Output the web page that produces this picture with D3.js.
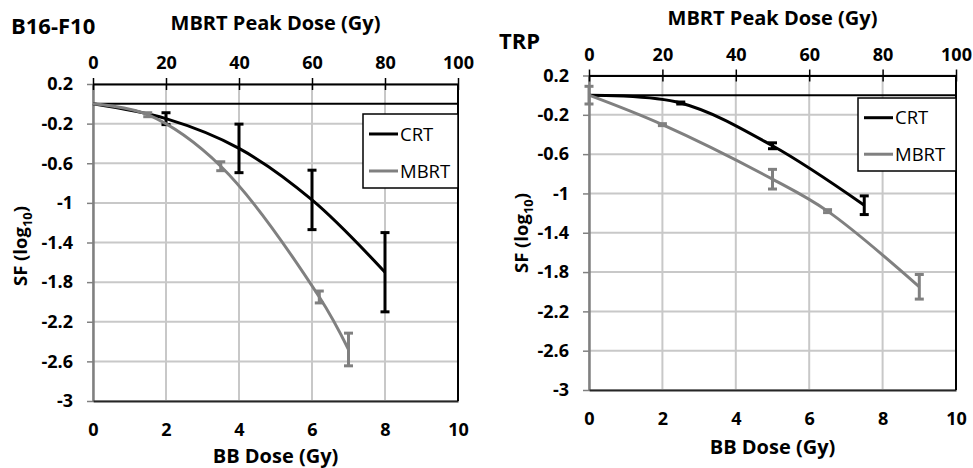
<!DOCTYPE html>
<html>
<head>
<meta charset="utf-8">
<script src="https://cdn.jsdelivr.net/npm/d3@7/dist/d3.min.js"></script>
<style>
  body { margin: 0; background: #fff; }
  svg { display: block; font-family: "Open Sans", "Noto Sans", sans-serif; }
</style>
</head>
<body>
<svg id="main-svg" width="973" height="468"></svg>
<script>
// shared ticks
var bbTicks = [0, 2, 4, 6, 8, 10]
var peakTicks = [0, 20, 40, 60, 80, 100]
var sfTicks = [0.2, -0.2, -0.6, -1, -1.4, -1.8, -2.2, -2.6, -3]
var seriesNames = ['CRT', 'MBRT']

// B16-F10 panel
var b16CrtDose = [0, 2, 4, 6, 8]
var b16CrtSF = [0, -0.15, -0.45, -0.97, -1.70]
var b16CrtErr = [0, 0.06, 0.245, 0.30, 0.40]
var b16MbrtDose = [0, 1.5, 3.5, 6.2, 7]
var b16MbrtSF = [0, -0.11, -0.63, -1.95, -2.48]
var b16MbrtErr = [0, 0.02, 0.045, 0.06, 0.165]

// TRP panel
var trpCrtDose = [0, 2.5, 5, 7.5]
var trpCrtSF = [0, -0.08, -0.515, -1.12]
var trpCrtErr = [0, 0.01, 0.03, 0.095]
var trpMbrtDose = [0, 2, 5, 6.5, 9]
var trpMbrtSF = [0, -0.30, -0.855, -1.18, -1.95]
var trpMbrtErr = [0.09, 0.01, 0.1, 0.015, 0.125]

var svg = d3.select('#main-svg')
var colors = { CRT: '#000000', MBRT: '#808080' }
var fontFam = '"Open Sans", "Noto Sans", sans-serif'
var tickFont = 18

function zip(xs, ys, es) {
    return xs.map(function(d, i) { return { x: d, y: ys[i], e: es[i] } })
}

function styleTicks(axisG) {
    axisG.attr('font-family', fontFam)
    axisG.selectAll('text').attr('font-size', tickFont).attr('font-weight', 'bold').attr('fill', '#000')
}

/**
 * Draws one survival panel.
 */
function drawPanel(p) {
    var x = d3.scaleLinear().domain([0, 10]).range([p.left, p.right])
    var xTop = d3.scaleLinear().domain([0, 100]).range([p.left, p.right])
    var y = d3.scaleLinear().domain([0.2, -3]).range([p.top, p.bottom])
    var g = svg.append('g')

    // gridlines
    g.selectAll('.hgrid').data(sfTicks).enter().append('line')
        .attr('x1', x(0)).attr('x2', x(10))
        .attr('y1', function(d) { return y(d) }).attr('y2', function(d) { return y(d) })
        .attr('stroke', '#c8c8c8').attr('stroke-width', 2)
    g.selectAll('.vgrid').data(bbTicks).enter().append('line')
        .attr('x1', function(d) { return x(d) }).attr('x2', function(d) { return x(d) })
        .attr('y1', y(0.2)).attr('y2', y(-3))
        .attr('stroke', '#c8c8c8').attr('stroke-width', 2)

    // left axis
    var yAxis = g.append('g').attr('transform', 'translate(' + x(0) + ',0)')
        .call(d3.axisLeft(y).tickValues(sfTicks).tickSize(6).tickSizeOuter(0).tickPadding(14)
            .tickFormat(function(d) { return d3.format('')(+d.toFixed(1)).replace('−', '-') }))
    yAxis.select('.domain').attr('stroke', '#808080').attr('stroke-width', 2.5)
    yAxis.selectAll('.tick line').attr('stroke', '#808080').attr('stroke-width', 1.5)
    styleTicks(yAxis)

    // bottom labels (axis crosses at 0, labels at low)
    var xAxis = g.append('g').attr('transform', 'translate(0,' + y(-3) + ')')
        .call(d3.axisBottom(x).tickValues(bbTicks).tickSize(0).tickPadding(22))
    xAxis.select('.domain').attr('stroke', '#262626').attr('stroke-width', 2)
    styleTicks(xAxis)

    // line at SF = 0 and right border
    g.append('line').attr('x1', x(0)).attr('x2', x(10)).attr('y1', y(0)).attr('y2', y(0))
        .attr('stroke', '#000').attr('stroke-width', 2)
    g.append('line').attr('x1', x(10)).attr('x2', x(10)).attr('y1', y(0.2)).attr('y2', y(-3))
        .attr('stroke', '#000').attr('stroke-width', 2)

    // top axis (MBRT peak dose)
    var topAxis = g.append('g').attr('transform', 'translate(0,' + y(0.2) + ')')
        .call(d3.axisTop(xTop).tickValues(peakTicks).tickSizeOuter(0).tickSizeInner(6).tickPadding(9))
    topAxis.select('.domain').attr('stroke', '#000').attr('stroke-width', 2)
    topAxis.selectAll('.tick line').attr('y1', 6).attr('y2', -6).attr('stroke', '#000').attr('stroke-width', 1.5)
    styleTicks(topAxis)

    // curves
    var line = d3.line().x(function(d) { return x(d.x) }).y(function(d) { return y(d.y) })
        .curve(d3.curveCatmullRom.alpha(0.5))
    p.series.forEach(function(s) {
        g.append('path').datum(s.data).attr('d', line)
            .attr('fill', 'none').attr('stroke', colors[s.name]).attr('stroke-width', 3)
        var bars = g.selectAll('.eb-' + s.name).data(s.data.filter(function(d) { return d.e > 0 }))
            .enter().append('g')
        bars.append('line')
            .attr('x1', function(d) { return x(d.x) }).attr('x2', function(d) { return x(d.x) })
            .attr('y1', function(d) { return y(d.y + d.e) }).attr('y2', function(d) { return y(d.y - d.e) })
            .attr('stroke', colors[s.name]).attr('stroke-width', 3)
        ;[1, -1].forEach(function(sign) {
            bars.append('line')
                .attr('x1', function(d) { return x(d.x) - 4.5 }).attr('x2', function(d) { return x(d.x) + 4.5 })
                .attr('y1', function(d) { return y(d.y + sign * d.e) }).attr('y2', function(d) { return y(d.y + sign * d.e) })
                .attr('stroke', colors[s.name]).attr('stroke-width', 3)
        })
    })

    // legend
    var lg = g.append('g')
    lg.append('rect').attr('x', p.legend[0]).attr('y', p.legend[1])
        .attr('width', x(10) - p.legend[0]).attr('height', p.legend[2])
        .attr('fill', '#fff').attr('stroke', '#000').attr('stroke-width', 1.5)
    seriesNames.forEach(function(n, i) {
        var ly = p.legend[1] + p.legend[2] * (i === 0 ? 0.27 : 0.77)
        lg.append('line').attr('x1', p.legend[0] + 6).attr('x2', p.legend[0] + 35)
            .attr('y1', ly).attr('y2', ly).attr('stroke', colors[n]).attr('stroke-width', 3)
        lg.append('text').attr('x', p.legend[0] + 37).attr('y', ly).attr('dy', '0.36em')
            .attr('font-size', 18.5).text(n)
    })

    // titles
    g.append('text').attr('x', p.titleX).attr('y', p.titleY).attr('font-size', 22)
        .attr('font-weight', 'bold').text(p.title)
    g.append('text').attr('x', (p.left + p.right) / 2).attr('y', p.peakY).attr('text-anchor', 'middle')
        .attr('font-size', 20).attr('font-weight', 'bold').text('MBRT Peak Dose (Gy)')
    g.append('text').attr('x', (p.left + p.right) / 2).attr('y', p.bbY).attr('text-anchor', 'middle')
        .attr('font-size', 20).attr('font-weight', 'bold').text('BB Dose (Gy)')
    var yl = g.append('text').attr('transform', 'translate(' + p.sfX + ',' + p.sfY + ') rotate(-90)')
        .attr('text-anchor', 'middle').attr('font-size', 18.5).attr('font-weight', 'bold')
    yl.append('tspan').text('SF (log')
    yl.append('tspan').attr('dy', 5).attr('font-size', 13).text('10')
    yl.append('tspan').attr('dy', -5).text(')')
}

drawPanel({
    title: 'B16-F10', titleX: 11, titleY: 34,
    left: 93, right: 458, top: 84, bottom: 401,
    peakY: 30, bbY: 463, sfX: 27, sfY: 246,
    legend: [363, 114, 74],
    series: [
        { name: 'CRT', data: zip(b16CrtDose, b16CrtSF, b16CrtErr) },
        { name: 'MBRT', data: zip(b16MbrtDose, b16MbrtSF, b16MbrtErr) }
    ]
})

drawPanel({
    title: 'TRP', titleX: 499, titleY: 49,
    left: 589, right: 956, top: 75.5, bottom: 390,
    peakY: 25, bbY: 454, sfX: 528, sfY: 233,
    legend: [858, 98, 73],
    series: [
        { name: 'CRT', data: zip(trpCrtDose, trpCrtSF, trpCrtErr) },
        { name: 'MBRT', data: zip(trpMbrtDose, trpMbrtSF, trpMbrtErr) }
    ]
})
</script>
</body>
</html>
